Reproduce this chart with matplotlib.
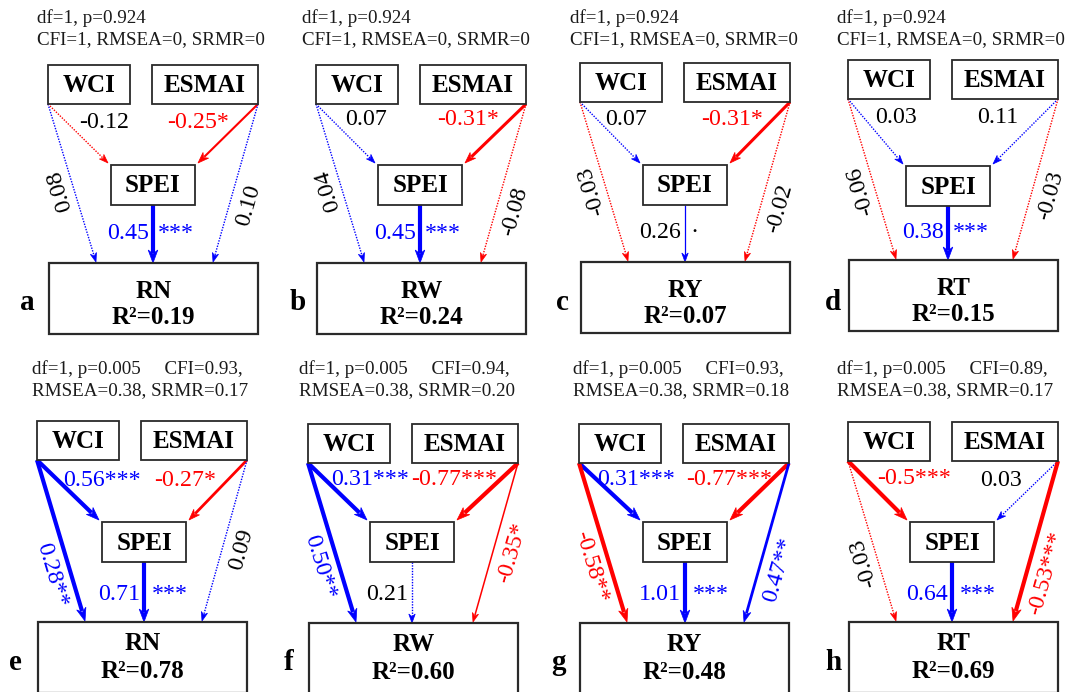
import math
import matplotlib
matplotlib.use("Agg")
import matplotlib.pyplot as plt
from matplotlib.patches import Rectangle, Polygon

plt.rcParams['font.family'] = ['Liberation Serif', 'DejaVu Serif']

# ---------------- data ----------------
panel_letters = ['a', 'b', 'c', 'd', 'e', 'f', 'g', 'h']
outcomes = ['RN', 'RW', 'RY', 'RT', 'RN', 'RW', 'RY', 'RT']
r2_values = ['0.19', '0.24', '0.07', '0.15', '0.78', '0.60', '0.48', '0.69']
fit_df = ['1'] * 8
fit_p = ['0.924'] * 4 + ['0.005'] * 4
fit_cfi = ['1', '1', '1', '1', '0.93', '0.94', '0.93', '0.89']
fit_rmsea = ['0', '0', '0', '0', '0.38', '0.38', '0.38', '0.38']
fit_srmr = ['0', '0', '0', '0', '0.17', '0.20', '0.18', '0.17']

# paths: WCI->SPEI, ESMAI->SPEI, WCI->Y, ESMAI->Y, SPEI->Y
path_coef = [
    ['-0.12', '-0.25', '0.08', '0.10', '0.45'],
    ['0.07', '-0.31', '0.04', '-0.08', '0.45'],
    ['0.07', '-0.31', '-0.03', '-0.02', '0.26'],
    ['0.03', '0.11', '-0.06', '-0.03', '0.38'],
    ['0.56', '-0.27', '0.28', '0.09', '0.71'],
    ['0.31', '-0.77', '0.50', '-0.35', '0.21'],
    ['0.31', '-0.77', '-0.58', '0.47', '1.01'],
    ['-0.5', '0.03', '-0.03', '-0.53', '0.64'],
]
path_sig = [
    ['', '*', '', '', '***'],
    ['', '*', '', '', '***'],
    ['', '*', '', '', '.'],
    ['', '', '', '', '***'],
    ['***', '*', '**', '', '***'],
    ['***', '***', '**', '*', ''],
    ['***', '***', '**', '**', '***'],
    ['***', '', '', '***', '***'],
]

# ---------------- layout (pixels) ----------------
W_PX, H_PX = 1070, 692
wci_xy = [(48, 65), (316, 65), (580, 63), (848, 60),
          (37, 421), (308, 424), (579, 424), (848, 422)]
spei_xy = [(111, 165), (378, 165), (643, 165), (906, 166),
           (102, 522), (370, 522), (643, 522), (910, 522)]
out_top = [263, 263, 262, 260, 622, 623, 623, 622]
header_x = [37, 302, 570, 837, 32, 299, 573, 837]
letter_x = [27, 298, 562, 833, 15, 289, 558, 833]
top_lab = [((56, 55), (150, 55)), ((50, 52), (152, 52)), ((46, 54), (152, 54)),
           ((48, 55), (150, 55)), ((65, 57), (148, 57)), ((62, 53), (146, 53)),
           ((57, 53), (150, 53)), ((66, 54), (153, 56))]
t_left = [0.525, 0.52, 0.53, 0.55, 0.68, 0.62, 0.62, 0.61]
t_right = [0.61, 0.65, 0.635, 0.57, 0.525, 0.53, 0.64, 0.67]
left_reads_up = [True, True, True, True, False, False, False, True]

WCI_W, BOX_H = 82, 39
ES_DX, ES_W = 104, 106
SP_W, SP_H = 84, 40
OUT_DX, OUT_W, OUT_H = 1, 209, 71

BLUE = '#0000FF'
RED = '#FF0000'
TXT = '#1a1a1a'
BOX_EC = '#2a2a2a'

sig_lw = {'***': 3.0, '**': 3.0, '*': 1.8, '.': 0.9, '': 1.0}
lw_override = {(0, 1): 1.5, (1, 1): 2.2, (2, 1): 2.2, (4, 1): 2.0,
               (5, 3): 1.1, (6, 3): 2.0, (4, 0): 3.0}

fig = plt.figure(figsize=(W_PX / 100, H_PX / 100), dpi=100)
ax = fig.add_axes([0, 0, 1, 1])
ax.set_xlim(0, W_PX)
ax.set_ylim(H_PX, 0)
ax.axis('off')

LAB_FS = 17.2
BOX_FS = 18
HEAD_FS = 13.7


def draw_arrow(p0, p1, color, lw, dotted):
    dx, dy = p1[0] - p0[0], p1[1] - p0[1]
    L = math.hypot(dx, dy)
    ux, uy = dx / L, dy / L
    if lw >= 2.5:
        hl, hw = 13, 4.8
    elif lw >= 1.4:
        hl, hw = 11, 4.0
    else:
        hl, hw = 9, 3.2
    bx, by = p1[0] - ux * hl * 0.8, p1[1] - uy * hl * 0.8
    kw = dict(color=color, lw=lw, solid_capstyle='butt', zorder=2)
    if dotted:
        ax.plot([p0[0], bx], [p0[1], by], linestyle=(0, (1, 1)), **kw)
    else:
        ax.plot([p0[0], bx], [p0[1], by], **kw)
    px, py = -uy, ux
    hb = (p1[0] - ux * hl, p1[1] - uy * hl)
    notch = (p1[0] - ux * hl * 0.7, p1[1] - uy * hl * 0.7)
    tri = [p1, (hb[0] + px * hw, hb[1] + py * hw), notch,
           (hb[0] - px * hw, hb[1] - py * hw)]
    ax.add_patch(Polygon(tri, closed=True, facecolor=color, edgecolor=color,
                         lw=0.5, zorder=3))


def box(x, y, w, h, label, lw=1.3):
    ax.add_patch(Rectangle((x, y), w, h, facecolor='white', edgecolor=BOX_EC,
                           lw=lw, zorder=4))
    if label:
        ax.text(x + w / 2, y + h / 2 + 1, label, ha='center', va='center',
                fontsize=BOX_FS, fontweight='bold', color='black', zorder=5)


for i in range(8):
    wx, wy = wci_xy[i]
    sx, sy = spei_xy[i]
    ot = out_top[i]
    row2 = i >= 4
    ex = wx + ES_DX
    ox = wx + OUT_DX

    # header
    if not row2:
        l1 = f"df={fit_df[i]}, p={fit_p[i]}"
        l2 = f"CFI={fit_cfi[i]}, RMSEA={fit_rmsea[i]}, SRMR={fit_srmr[i]}"
        y1, y2 = 16, 38
    else:
        l1 = f"df={fit_df[i]}, p={fit_p[i]}     CFI={fit_cfi[i]},"
        l2 = f"RMSEA={fit_rmsea[i]}, SRMR={fit_srmr[i]}"
        y1, y2 = 367, 389
    ax.text(header_x[i], y1, l1, ha='left', va='center_baseline',
            fontsize=HEAD_FS, color=TXT)
    ax.text(header_x[i], y2, l2, ha='left', va='center_baseline',
            fontsize=HEAD_FS, color=TXT)

    # boxes
    box(wx, wy, WCI_W, BOX_H, 'WCI')
    box(ex, wy, ES_W, BOX_H, 'ESMAI')
    box(sx, sy, SP_W, SP_H, 'SPEI')
    ax.add_patch(Rectangle((ox, ot), OUT_W, OUT_H, facecolor='white',
                           edgecolor=BOX_EC, lw=1.6, zorder=4))
    ny, ry = (ot + 26, ot + 52) if not row2 else (ot + 19, ot + 47)
    ax.text(ox + OUT_W / 2, ny, outcomes[i], ha='center', va='center_baseline',
            fontsize=BOX_FS, fontweight='bold', zorder=5)
    ax.text(ox + OUT_W / 2, ry, f"R\u00b2={r2_values[i]}", ha='center',
            va='center_baseline', fontsize=BOX_FS, fontweight='bold', zorder=5)

    # panel letter
    ax.text(letter_x[i], 310 if not row2 else 670, panel_letters[i],
            ha='center', va='baseline', fontsize=21, fontweight='bold')

    # arrows
    wc = (wx, wy + BOX_H)
    ec = (ex + ES_W, wy + BOX_H)
    starts = [wc, ec, wc, ec, (sx + SP_W / 2, sy + SP_H)]
    ends = [(sx - 3, sy - 2), (sx + SP_W + 3, sy - 2),
            (ox + 47, ot - 1), (ox + OUT_W - 45, ot - 1),
            (sx + SP_W / 2, ot)]
    for k in range(5):
        c = path_coef[i][k]
        s = path_sig[i][k]
        col = RED if c.startswith('-') else BLUE
        lw = lw_override.get((i, k), sig_lw[s])
        draw_arrow(starts[k], ends[k], col, lw, s == '')
        lab_col = col if s.startswith('*') else 'black'
        if k in (0, 1):
            dxl, dyl = top_lab[i][k]
            ax.text(wx + dxl, wy + dyl, c + s, ha='center', va='center_baseline',
                    fontsize=LAB_FS, color=lab_col, zorder=6)
        elif k in (2, 3):
            p0, p1 = starts[k], ends[k]
            ddx, ddy = p1[0] - p0[0], p1[1] - p0[1]
            L = math.hypot(ddx, ddy)
            t = t_left[i] if k == 2 else t_right[i]
            mx, my = p0[0] + t * ddx, p0[1] + t * ddy
            if k == 2:
                px, py = -ddy / L, ddx / L
                if left_reads_up[i]:
                    rot = math.degrees(math.atan2(ddy, -ddx))
                else:
                    rot = math.degrees(math.atan2(-ddy, ddx))
            else:
                px, py = ddy / L, -ddx / L
                rot = math.degrees(math.atan2(ddy, -ddx))
            off = 16.5
            ax.text(mx + px * off, my + py * off, c + s, ha='center',
                    va='center_baseline', rotation=rot, rotation_mode='anchor',
                    fontsize=LAB_FS, color=lab_col, zorder=6)
        else:
            axx = sx + SP_W / 2
            ly = (sy + SP_H + ot) / 2 - (3 if not row2 else 0)
            ax.text(axx - 4, ly, c, ha='right', va='center_baseline',
                    fontsize=LAB_FS, color=lab_col, zorder=6)
            if s:
                stxt = '\u00b7' if s == '.' else s
                ax.text(axx + 5 if not row2 else axx + 8, ly, stxt, ha='left',
                        va='center_baseline', fontsize=LAB_FS, color=lab_col,
                        zorder=6)

fig.savefig('out.png', dpi=100, facecolor='white')
